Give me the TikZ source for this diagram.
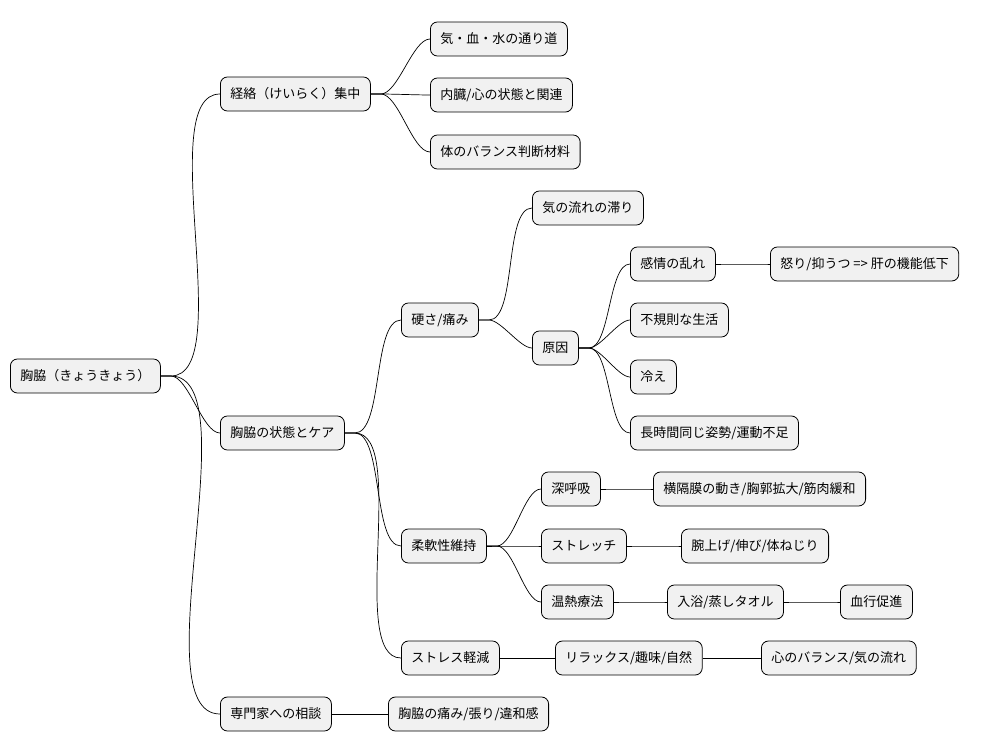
\documentclass[tikz,border=0pt]{standalone}
\usepackage{fontspec}
\setmainfont{Noto Sans CJK JP}
\begin{document}
\begin{tikzpicture}[x=1pt,y=-1pt,
  box/.style={draw=black,line width=0.8pt,fill={rgb,255:red,241;green,241;blue,241},rounded corners=7pt,
    minimum height=34pt,inner xsep=10pt,anchor=west,font=\fontsize{13}{15}\selectfont},
  edge/.style={line width=0.7pt}]
\useasboundingbox (0,0) rectangle (992,752);
\node[box] (r) at (10,376) {胸脇（きょうきょう）};
\node[box] (a) at (220,94) {経絡（けいらく）集中};
\node[box] (a1) at (430,39) {気・血・水の通り道};
\node[box] (a2) at (430,95) {内臓/心の状態と関連};
\node[box] (a3) at (430,152) {体のバランス判断材料};
\node[box] (b) at (220,433) {胸脇の状態とケア};
\node[box] (b1) at (401,320) {硬さ/痛み};
\node[box] (b11) at (532,208) {気の流れの滞り};
\node[box] (b12) at (532,348) {原因};
\node[box] (c1) at (630,264) {感情の乱れ};
\node[box] (c11) at (770,264) {怒り/抑うつ => 肝の機能低下};
\node[box] (c2) at (630,320) {不規則な生活};
\node[box] (c3) at (630,377) {冷え};
\node[box] (c4) at (630,433) {長時間同じ姿勢/運動不足};
\node[box] (b2) at (401,546) {柔軟性維持};
\node[box] (d1) at (541,489) {深呼吸};
\node[box] (d11) at (653,489) {横隔膜の動き/胸郭拡大/筋肉緩和};
\node[box] (d2) at (541,546) {ストレッチ};
\node[box] (d21) at (681,546) {腕上げ/伸び/体ねじり};
\node[box] (d3) at (541,602) {温熱療法};
\node[box] (d31) at (667,602) {入浴/蒸しタオル};
\node[box] (d32) at (840,602) {血行促進};
\node[box] (b3) at (401,658) {ストレス軽減};
\node[box] (e1) at (555,658) {リラックス/趣味/自然};
\node[box] (e2) at (761,658) {心のバランス/気の流れ};
\node[box] (f) at (220,714) {専門家への相談};
\node[box] (f1) at (388,714) {胸脇の痛み/張り/違和感};
\foreach \p/\c in {r/a,r/b,r/f,a/a1,a/a2,a/a3,b/b1,b/b2,b/b3,b1/b11,b1/b12,b12/c1,b12/c2,b12/c3,b12/c4,c1/c11,
  b2/d1,b2/d2,b2/d3,d1/d11,d2/d21,d3/d31,d31/d32,b3/e1,e1/e2,f/f1}
  \draw[edge] (\p.east) -- ++(10,0) to[out=0,in=180,looseness=0.6] (\c.west);
\end{tikzpicture}
\end{document}
